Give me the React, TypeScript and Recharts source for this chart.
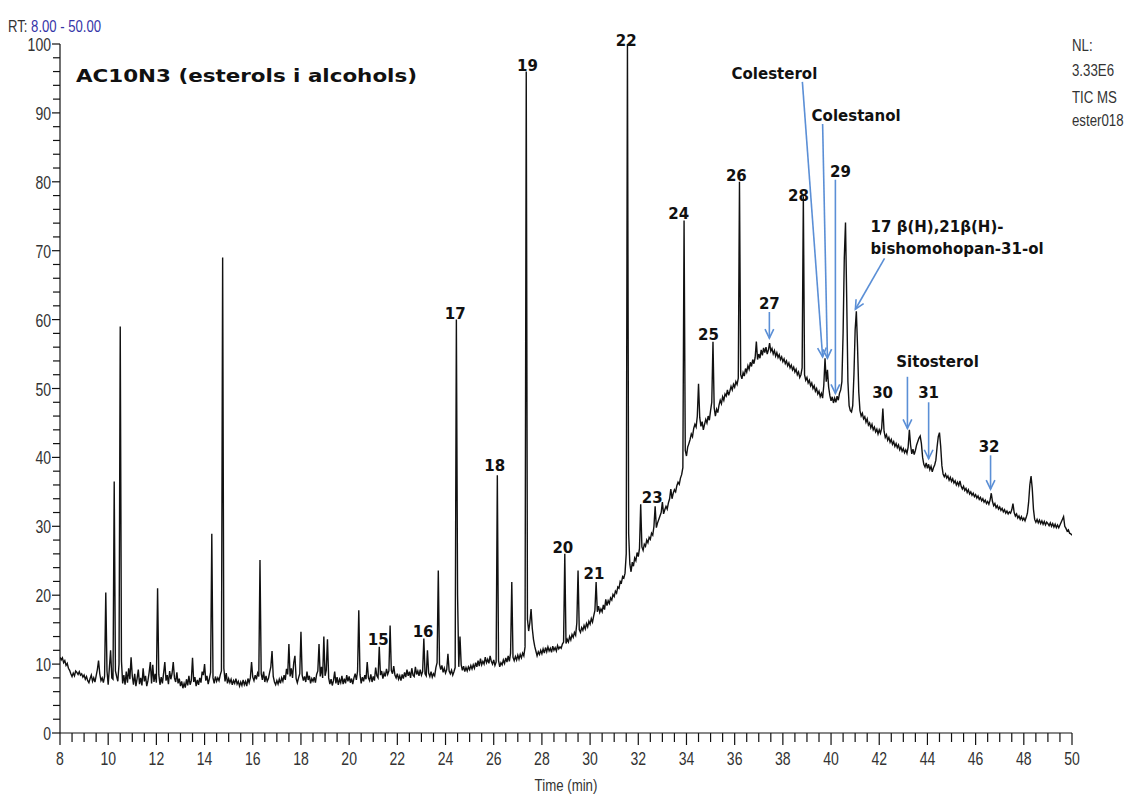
import React from 'react';
import { LineChart, Line, XAxis, YAxis, ReferenceLine, ReferenceDot } from 'recharts';

// TIC trace, one value every 0.05 min, two minutes per block
const s08 = [11.0, 10.6, 10.9, 10.2, 10.5, 9.8, 10.1, 9.4, 9.1, 8.6, 8.2, 8.7, 8.3, 9.0, 8.8, 8.5, 8.9, 8.4, 8.6, 8.1, 8.4, 7.8, 8.2, 7.6, 7.3, 7.9, 8.4, 7.5, 8.0, 7.4, 8.3, 9.2, 10.5, 8.6, 7.6, 8.0, 7.3, 8.2, 20.4, 9.0];
const s10 = [7.0, 9.5, 12.0, 8.0, 7.8, 36.5, 9.0, 8.2, 7.5, 10.0, 59.0, 10.5, 7.2, 8.4, 7.0, 8.9, 7.3, 9.4, 7.8, 11.0, 8.3, 7.0, 8.6, 6.8, 7.9, 9.2, 7.1, 8.0, 6.9, 9.4, 7.5, 8.3, 6.8, 7.6, 8.8, 10.3, 7.2, 9.9, 7.4, 8.6];
const s12 = [7.3, 21.0, 8.5, 7.0, 8.1, 7.2, 8.7, 10.3, 7.6, 8.4, 7.1, 9.0, 7.8, 8.6, 10.3, 8.0, 7.4, 8.8, 7.2, 7.9, 6.8, 7.5, 6.5, 7.2, 6.6, 7.8, 6.9, 8.3, 7.0, 7.6, 10.9, 7.4, 8.1, 6.8, 7.7, 7.0, 8.0, 7.3, 8.9, 8.4];
const s14 = [10.0, 7.6, 8.3, 7.1, 7.9, 8.8, 28.9, 8.0, 7.2, 8.2, 7.5, 8.0, 7.6, 8.4, 9.0, 69.0, 9.4, 7.5, 8.7, 7.2, 7.9, 7.3, 7.8, 7.0, 7.6, 7.2, 7.9, 7.1, 7.5, 6.8, 7.4, 6.9, 7.7, 7.0, 7.5, 6.8, 7.9, 7.3, 8.0, 10.3];
const s16 = [8.1, 7.6, 8.4, 7.8, 8.7, 8.2, 25.1, 8.6, 7.7, 8.9, 7.4, 8.3, 7.5, 7.9, 8.8, 9.6, 11.9, 8.2, 7.4, 7.0, 7.6, 7.1, 7.8, 7.2, 8.0, 7.5, 8.4, 7.7, 9.3, 8.5, 12.9, 8.2, 9.4, 8.0, 10.2, 11.2, 7.9, 7.3, 8.0, 8.6];
const s18 = [14.7, 8.4, 7.6, 8.2, 7.4, 8.9, 7.7, 8.3, 7.2, 7.9, 7.5, 8.1, 7.3, 8.5, 9.0, 12.9, 8.2, 9.6, 8.0, 14.0, 8.3, 9.1, 13.6, 8.0, 7.1, 7.8, 6.9, 7.6, 8.9, 7.2, 8.1, 7.0, 7.8, 7.3, 8.3, 7.1, 7.9, 7.2, 8.4, 7.5];
const s20 = [8.2, 7.3, 7.9, 7.1, 8.0, 8.6, 7.7, 9.0, 17.8, 8.5, 7.2, 8.1, 7.5, 8.4, 7.8, 10.3, 8.0, 7.6, 8.5, 7.4, 8.2, 7.6, 9.5, 8.3, 8.0, 12.5, 8.4, 9.0, 7.9, 8.7, 8.2, 9.3, 8.5, 9.0, 15.6, 9.1, 8.6, 9.7, 8.4, 8.0];
const s22 = [8.6, 7.8, 8.3, 7.6, 8.5, 7.9, 8.8, 8.1, 9.2, 8.3, 8.9, 8.0, 9.4, 8.4, 8.2, 9.6, 8.5, 9.0, 8.3, 9.2, 8.4, 8.9, 13.7, 8.6, 8.3, 12.0, 8.7, 8.2, 8.9, 8.1, 8.6, 8.3, 9.5, 10.2, 23.6, 10.0, 9.2, 9.8, 8.8, 9.4];
const s24 = [8.7, 9.2, 11.5, 9.0, 8.6, 9.1, 8.4, 8.9, 9.5, 60.0, 20.0, 9.6, 14.0, 9.9, 9.1, 9.7, 8.9, 9.5, 9.0, 9.6, 9.2, 9.8, 9.3, 9.9, 9.4, 10.2, 9.6, 10.5, 9.7, 10.8, 9.9, 10.4, 10.0, 11.0, 10.2, 10.7, 10.1, 11.2, 10.4, 10.0];
const s26 = [10.6, 9.8, 10.3, 37.4, 10.5, 9.6, 10.2, 9.9, 10.6, 10.1, 10.9, 10.3, 11.2, 10.4, 11.6, 21.9, 11.0, 10.5, 11.1, 10.6, 11.3, 10.7, 11.4, 10.9, 11.6, 11.2, 12.5, 96.0, 16.5, 14.8, 16.0, 18.0, 15.2, 13.6, 12.6, 11.9, 11.2, 11.8, 11.4, 12.0];
const s28 = [11.5, 12.2, 11.6, 12.4, 11.8, 12.5, 11.9, 12.3, 11.7, 12.6, 12.0, 12.4, 11.9, 12.7, 12.2, 12.5, 12.3, 12.9, 13.2, 26.0, 13.0, 13.6, 13.2, 14.0, 13.5, 14.3, 13.9, 14.6, 14.2, 16.0, 23.6, 15.0, 14.6, 15.3, 14.9, 15.6, 15.1, 15.9, 15.4, 16.2];
const s30 = [15.8, 16.6, 16.1, 17.0, 17.8, 21.9, 17.6, 18.4, 17.5, 18.0, 17.6, 18.6, 17.9, 19.4, 18.5, 19.2, 18.8, 19.6, 19.3, 20.1, 19.8, 20.6, 20.3, 21.2, 21.0, 22.0, 21.8, 22.7, 22.5, 23.2, 26.0, 100.0, 29.0, 24.5, 23.4, 24.8, 24.2, 25.4, 25.0, 26.2];
const s32 = [25.6, 26.8, 33.2, 27.0, 26.5, 27.4, 27.1, 28.0, 27.6, 28.4, 28.1, 29.0, 28.7, 30.0, 32.9, 29.8, 30.5, 31.0, 31.5, 32.0, 33.5, 31.8, 32.4, 32.9, 32.5, 33.4, 34.0, 35.4, 34.0, 34.8, 35.3, 35.0, 35.9, 36.4, 36.1, 37.0, 37.5, 38.5, 74.4, 41.0];
const s34 = [40.2, 41.5, 42.0, 42.6, 43.4, 43.0, 44.2, 44.8, 44.4, 46.0, 50.7, 45.8, 44.5, 45.2, 44.0, 44.8, 45.5, 45.0, 46.0, 45.4, 46.8, 48.0, 56.8, 47.2, 46.0, 47.0, 46.5, 47.6, 48.3, 47.8, 48.8, 48.3, 49.2, 48.9, 49.8, 49.0, 49.6, 50.3, 49.8, 50.6];
const s36 = [50.2, 51.0, 50.6, 51.5, 80.0, 52.0, 51.4, 52.3, 51.8, 52.9, 52.4, 53.3, 52.8, 53.8, 53.2, 54.2, 53.6, 54.5, 56.8, 54.2, 55.0, 54.4, 55.6, 54.8, 55.9, 55.2, 56.0, 55.0, 55.6, 56.6, 55.4, 55.8, 55.0, 55.5, 54.7, 55.2, 54.5, 54.9, 54.2, 54.6];
const s38 = [53.9, 54.3, 53.6, 54.0, 53.3, 53.7, 53.0, 53.4, 52.7, 53.1, 52.4, 52.8, 52.0, 52.4, 51.6, 52.0, 53.0, 77.9, 52.0, 51.2, 51.6, 50.8, 51.2, 50.4, 50.8, 50.0, 50.4, 49.6, 50.0, 49.2, 49.6, 48.8, 49.3, 48.6, 50.5, 54.4, 51.0, 52.7, 50.2, 49.0];
const s40 = [48.2, 48.8, 47.9, 48.6, 48.0, 48.9, 48.3, 49.3, 49.8, 51.0, 58.0, 69.0, 74.1, 63.0, 51.0, 47.5, 46.8, 46.6, 47.5, 52.0, 58.5, 61.2, 56.0, 49.5, 46.8, 46.0, 46.4, 45.6, 45.9, 45.1, 45.6, 44.7, 45.0, 44.3, 44.8, 44.0, 44.4, 43.7, 44.1, 43.4];
const s42 = [44.0, 43.5, 44.2, 47.1, 43.8, 42.9, 43.3, 42.5, 42.9, 42.2, 42.6, 41.9, 42.3, 41.6, 42.0, 41.4, 41.8, 41.1, 41.5, 40.9, 41.3, 40.7, 41.1, 40.6, 41.5, 44.0, 41.8, 40.5, 41.2, 40.4, 41.0, 41.8, 42.3, 42.8, 43.1, 42.0, 40.0, 39.0, 38.6, 39.2];
const s44 = [38.4, 39.0, 38.2, 38.7, 37.9, 38.5, 38.9, 39.6, 41.5, 43.0, 43.6, 41.6, 38.8, 37.6, 37.2, 37.6, 37.0, 37.3, 36.7, 37.1, 36.5, 36.9, 36.3, 36.6, 36.0, 36.4, 35.9, 36.6, 35.8, 35.4, 35.8, 35.2, 35.5, 34.9, 35.3, 34.7, 35.0, 34.5, 34.8, 34.3];
const s46 = [34.6, 34.1, 34.4, 33.9, 34.2, 33.7, 34.0, 33.5, 33.8, 33.3, 33.6, 33.2, 33.8, 34.8, 33.6, 33.0, 33.3, 32.7, 33.0, 32.5, 32.8, 32.3, 32.6, 32.1, 32.4, 31.9, 32.2, 31.8, 32.1, 31.9, 32.4, 33.3, 32.0, 31.5, 31.8, 31.2, 31.5, 31.0, 31.4, 30.9];
const s48 = [31.2, 30.8, 31.3, 31.9, 33.5, 36.0, 37.3, 35.5, 32.5, 31.0, 30.6, 31.0, 30.5, 30.9, 30.4, 30.8, 30.3, 30.7, 30.2, 30.6, 30.4, 30.1, 30.5, 30.0, 30.4, 29.9, 30.3, 29.8, 30.2, 29.8, 30.2, 30.6, 31.0, 31.4, 30.0, 29.7, 29.3, 29.5, 29.0, 28.9, 28.7];

const blocks = [s08, s10, s12, s14, s16, s18, s20, s22, s24, s26, s28, s30, s32, s34, s36, s38, s40, s42, s44, s46, s48];
const blockStart = [8, 10, 12, 14, 16, 18, 20, 22, 24, 26, 28, 30, 32, 34, 36, 38, 40, 42, 44, 46, 48];
const sampleStep = 0.05;

const xMajor = [8, 10, 12, 14, 16, 18, 20, 22, 24, 26, 28, 30, 32, 34, 36, 38, 40, 42, 44, 46, 48, 50];
const yMajor = [0, 10, 20, 30, 40, 50, 60, 70, 80, 90, 100];

// peak numbers: [time, intensity at text baseline, label]
const peakNumbers: [number, number, string][] = [
  [21.21, 12.7, '15'], [23.07, 13.9, '16'], [24.40, 60.1, '17'], [26.04, 38.0, '18'],
  [27.40, 96.1, '19'], [28.87, 26.1, '20'], [30.16, 22.3, '21'], [31.50, 99.7, '22'],
  [32.58, 33.4, '23'], [33.68, 74.6, '24'], [34.91, 57.0, '25'], [36.07, 80.1, '26'],
  [37.44, 61.5, '27'], [38.65, 77.2, '28'], [40.39, 80.7, '29'], [42.14, 48.6, '30'],
  [44.05, 48.6, '31'], [46.56, 40.8, '32'],
];
const compoundNames: [number, number, string][] = [
  [37.65, 94.9, 'Colesterol'], [41.04, 88.8, 'Colestanol'], [44.42, 53.1, 'Sitosterol'],
];
const hopanolLines: [number, number, string][] = [
  [41.64, 72.7, '17 β(H),21β(H)-'], [41.64, 69.5, 'bishomohopan-31-ol'],
];
// arrows: [t1, v1, t2, v2], head at the second point
const arrows: [number, number, number, number][] = [
  [37.44, 61.1, 37.44, 57.3],
  [38.81, 94.5, 39.65, 54.6],
  [39.65, 88.4, 39.85, 54.4],
  [40.18, 80.3, 40.18, 49.3],
  [42.22, 68.9, 41.01, 61.5],
  [43.17, 51.7, 43.17, 44.2],
  [44.05, 48.0, 44.05, 39.8],
  [46.62, 40.3, 46.62, 35.4],
];

const trace = blocks.flatMap((vals, b) =>
  vals.map((v, i) => ({ t: +(blockStart[b] + i * sampleStep).toFixed(2), v }))
);
const xTicks = Array.from({ length: 85 }, (_, i) => 8 + i * 0.5);
const yTicks = Array.from({ length: 51 }, (_, i) => i * 2);

// no narrow face installed, so Liberation Sans gets squeezed horizontally
const sans = "'Liberation Sans', Arial, sans-serif";
const bold = "'DejaVu Sans', Verdana, sans-serif";
const arrowBlue = '#5b8fd6';

const Narrow = ({ x, y, size = 17, anchor = 'start', fill = '#333', children }: any) => (
  <text
    transform={`translate(${x} ${y}) scale(0.78 1)`}
    x={0}
    y={0}
    textAnchor={anchor}
    fontFamily={sans}
    fontSize={size}
    fill={fill}
  >
    {children}
  </text>
);

const XTick = (props: any) => {
  const { x, y, payload } = props;
  const major = xMajor.includes(payload.value);
  return (
    <g>
      <line x1={x} y1={y} x2={x} y2={y + (major ? 12 : 9)} stroke="#111" strokeWidth={1.2} />
      {major && (
        <Narrow x={x} y={y + 32} size={18} anchor="middle">
          {payload.value}
        </Narrow>
      )}
    </g>
  );
};

const YTick = (props: any) => {
  const { x, y, payload } = props;
  const major = yMajor.includes(payload.value);
  return (
    <g>
      <line x1={x - (major ? 8 : 7)} y1={y} x2={x} y2={y} stroke="#111" strokeWidth={1.2} />
      {major && (
        <Narrow x={x - 9} y={y + 7} size={18} anchor="end">
          {payload.value}
        </Narrow>
      )}
    </g>
  );
};

const Arrow = (p: any) => {
  const { x1, y1, x2, y2 } = p;
  const a = Math.atan2(y2 - y1, x2 - x1);
  const len = 10;
  const spread = 0.45;
  const w1x = x2 - len * Math.cos(a - spread);
  const w1y = y2 - len * Math.sin(a - spread);
  const w2x = x2 - len * Math.cos(a + spread);
  const w2y = y2 - len * Math.sin(a + spread);
  return (
    <g stroke={arrowBlue} strokeWidth={1.6} fill="none">
      <line x1={x1} y1={y1} x2={x2} y2={y2} />
      <polyline points={`${w1x},${w1y} ${x2},${y2} ${w2x},${w2y}`} />
    </g>
  );
};

const labelShape = (text: string, anchor: 'middle' | 'start') => (p: any) => (
  <text x={p.cx} y={p.cy} textAnchor={anchor} fontFamily={bold} fontWeight="bold" fontSize={15} fill="#111">
    {text}
  </text>
);

export default function App() {
  return (
    <div style={{ position: 'absolute', left: 0, top: 0, width: 1126, height: 795, background: '#fff' }}>
      <LineChart width={1126} height={795} data={trace} margin={{ top: 44, right: 54, bottom: 12, left: 8 }}>
        <XAxis
          dataKey="t"
          type="number"
          domain={[8, 50]}
          ticks={xTicks}
          interval={0}
          tickSize={0}
          tickMargin={0}
          tickLine={false}
          tick={XTick}
          axisLine={{ stroke: '#111', strokeWidth: 1.2 }}
          height={50}
          allowDataOverflow
        />
        <YAxis
          type="number"
          domain={[0, 100]}
          ticks={yTicks}
          interval={0}
          tickSize={0}
          tickMargin={0}
          tickLine={false}
          tick={YTick}
          axisLine={{ stroke: '#111', strokeWidth: 1.2 }}
          width={52}
          allowDataOverflow
        />
        <Line type="linear" dataKey="v" stroke="#111" strokeWidth={1.4} dot={false} isAnimationActive={false} />
        {arrows.map(([t1, v1, t2, v2], i) => (
          <ReferenceLine key={'a' + i} segment={[{ x: t1, y: v1 }, { x: t2, y: v2 }]} shape={Arrow} />
        ))}
        {peakNumbers.map(([t, v, s]) => (
          <ReferenceDot key={'p' + s} x={t} y={v} r={0} shape={labelShape(s, 'middle')} />
        ))}
        {compoundNames.map(([t, v, s]) => (
          <ReferenceDot key={'c' + s} x={t} y={v} r={0} shape={labelShape(s, 'middle')} />
        ))}
        {hopanolLines.map(([t, v, s]) => (
          <ReferenceDot key={'h' + s} x={t} y={v} r={0} shape={labelShape(s, 'start')} />
        ))}
      </LineChart>
      <svg width={1126} height={795} style={{ position: 'absolute', left: 0, top: 0, pointerEvents: 'none' }}>
        <text transform="translate(8 32) scale(0.82 1)" x={0} y={0} fontFamily={sans} fontSize={16}>
          <tspan fill="#333">RT: </tspan>
          <tspan fill="#3535a8">8.00 - 50.00</tspan>
        </text>
        <text x={76} y={82} fontFamily={bold} fontWeight="bold" fontSize={17} fill="#111" textLength={341} lengthAdjust="spacingAndGlyphs">
          AC10N3 (esterols i alcohols)
        </text>
        <Narrow x={1072} y={51}>NL:</Narrow>
        <Narrow x={1072} y={76}>3.33E6</Narrow>
        <Narrow x={1072} y={103}>TIC  MS</Narrow>
        <Narrow x={1072} y={126}>ester018</Narrow>
        <Narrow x={566} y={791} size={17} anchor="middle">
          Time (min)
        </Narrow>
      </svg>
    </div>
  );
}
